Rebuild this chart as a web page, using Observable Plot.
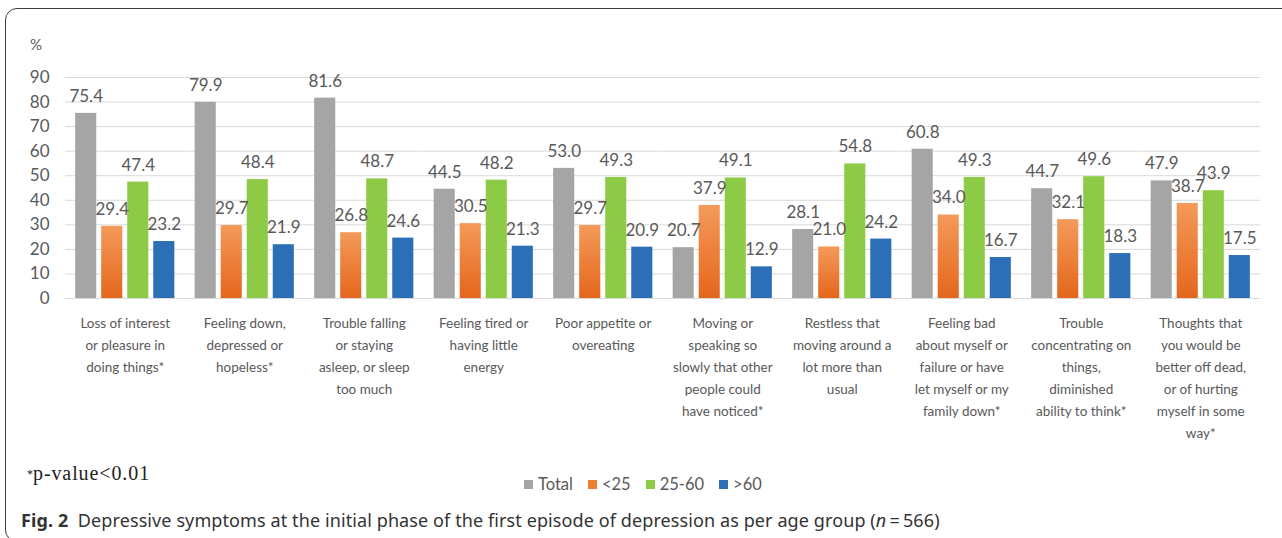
<!DOCTYPE html>
<html>
<head>
<meta charset="utf-8">
<script src="https://cdn.jsdelivr.net/npm/d3@7"></script>
<script src="https://cdn.jsdelivr.net/npm/@observablehq/plot@0.6"></script>
<style>
  html, body { margin: 0; padding: 0; background: #fff; }
  body { width: 1282px; height: 538px; overflow: hidden; position: relative; font-family: Lato, "Open Sans", sans-serif; }
  #box { position: absolute; left: 5px; top: 8px; width: 1320px; height: 534px; border: 1.5px solid #3c3c3c; border-radius: 12px; box-sizing: border-box; }
  #chart { position: absolute; left: 0; top: 0; }
  #unit { position: absolute; left: 30px; top: 35px; font-size: 15px; color: #595959; }
  #legend { position: absolute; left: 524px; top: 474px; display: flex; align-items: center; font-size: 16.5px; color: #595959; }
  #legend .item { display: flex; align-items: center; margin-right: 15px; }
  #legend .sw { width: 9px; height: 9px; margin-right: 5px; }
  #note { position: absolute; left: 27px; top: 462px; font-family: "Liberation Serif", "DejaVu Serif", serif; font-size: 20px; letter-spacing: 0.9px; color: #222; }
  #note sup { font-size: 12px; vertical-align: 2px; letter-spacing: 0; }
  #caption { position: absolute; left: 21px; top: 508px; font-family: "Noto Sans", "Open Sans", sans-serif; font-size: 18px; letter-spacing: 0.1px; color: #333; white-space: nowrap; }
  #caption b { color: #333; }
</style>
</head>
<body>
<div id="box"></div>
<div id="chart"></div>
<div id="unit">%</div>
<div id="note"><sup>*</sup>p-value&lt;0.01</div>
<div id="legend"></div>
<div id="caption"><b>Fig. 2</b>&nbsp;&nbsp;Depressive symptoms at the initial phase of the first episode of depression as per age group (<i>n</i>&thinsp;=&thinsp;566)</div>
<script>
// Symptom categories (line breaks as printed under the axis)
const categories = [
  "Loss of interest\nor pleasure in\ndoing things*",
  "Feeling down,\ndepressed or\nhopeless*",
  "Trouble falling\nor staying\nasleep, or sleep\ntoo much",
  "Feeling tired or\nhaving little\nenergy",
  "Poor appetite or\novereating",
  "Moving or\nspeaking so\nslowly that other\npeople could\nhave noticed*",
  "Restless that\nmoving around a\nlot more than\nusual",
  "Feeling bad\nabout myself or\nfailure or have\nlet myself or my\nfamily down*",
  "Trouble\nconcentrating on\nthings,\ndiminished\nability to think*",
  "Thoughts that\nyou would be\nbetter off dead,\nor of hurting\nmyself in some\nway*"
];

// Age groups
const groups = ["Total", "<25", "25-60", ">60"];

// Percentages per group
const total     = [75.4, 79.9, 81.6, 44.5, 53.0, 20.7, 28.1, 60.8, 44.7, 47.9];
const under25   = [29.4, 29.7, 26.8, 30.5, 29.7, 37.9, 21.0, 34.0, 32.1, 38.7];
const age25to60 = [47.4, 48.4, 48.7, 48.2, 49.3, 49.1, 54.8, 49.3, 49.6, 43.9];
const over60    = [23.2, 21.9, 24.6, 21.3, 20.9, 12.9, 24.2, 16.7, 18.3, 17.5];

// Y-axis ticks
const yTicks = [0, 10, 20, 30, 40, 50, 60, 70, 80, 90];

const series = [total, under25, age25to60, over60];
const rows = [];
categories.forEach((c, i) => {
  groups.forEach((g, j) => rows.push({category: c, group: g, value: series[j][i]}));
});

const colors = ["#A5A5A5", "url(#orangeGrad)", "#8DCB47", "#2C6FB6"];
const swatches = ["#A5A5A5", "#ED7D31", "#8DCB47", "#2C6FB6"];

const chart = Plot.plot({
  width: 1282,
  height: 460,
  marginTop: 77,
  marginBottom: 162,
  marginLeft: 65,
  marginRight: 22,
  style: {fontFamily: "Lato, 'Open Sans', sans-serif", fontSize: "15px", color: "#595959", background: "transparent"},
  fx: {domain: categories, padding: 0, round: false, label: null},
  x: {domain: groups, paddingInner: 0.19, paddingOuter: 0.39, round: false, axis: null},
  y: {domain: [0, 90], label: null},
  color: {domain: groups, range: colors},
  marks: [
    Plot.gridY(yTicks, {stroke: "#d9d9d9", strokeOpacity: 1, strokeWidth: 1}),
    Plot.axisY(yTicks, {tickSize: 0, tickPadding: 16, label: null, fontSize: 17}),
    Plot.axisFx({anchor: "bottom", tickSize: 0, tickPadding: 14, label: null, fontSize: 13.5, lineHeight: 1.63}),
    Plot.barY(rows, {fx: "category", x: "group", y: "value", fill: "group"}),
    Plot.text(rows, {fx: "category", x: "group", y: "value", text: d => d.value.toFixed(1), dy: -17, fill: "#595959", fontSize: 17})
  ]
});

// vertical gradient used by the <25 bars
const defs = d3.select(chart).insert("defs", ":first-child");
const grad = defs.append("linearGradient").attr("id", "orangeGrad").attr("x1", 0).attr("y1", 0).attr("x2", 0).attr("y2", 1);
grad.append("stop").attr("offset", "0%").attr("stop-color", "#F49A5A");
grad.append("stop").attr("offset", "100%").attr("stop-color", "#E4661C");

document.getElementById("chart").appendChild(chart);

// legend
const legend = d3.select("#legend");
groups.forEach((g, i) => {
  const item = legend.append("div").attr("class", "item");
  item.append("div").attr("class", "sw").style("background", swatches[i]);
  item.append("span").text(g);
});
</script>
</body>
</html>
